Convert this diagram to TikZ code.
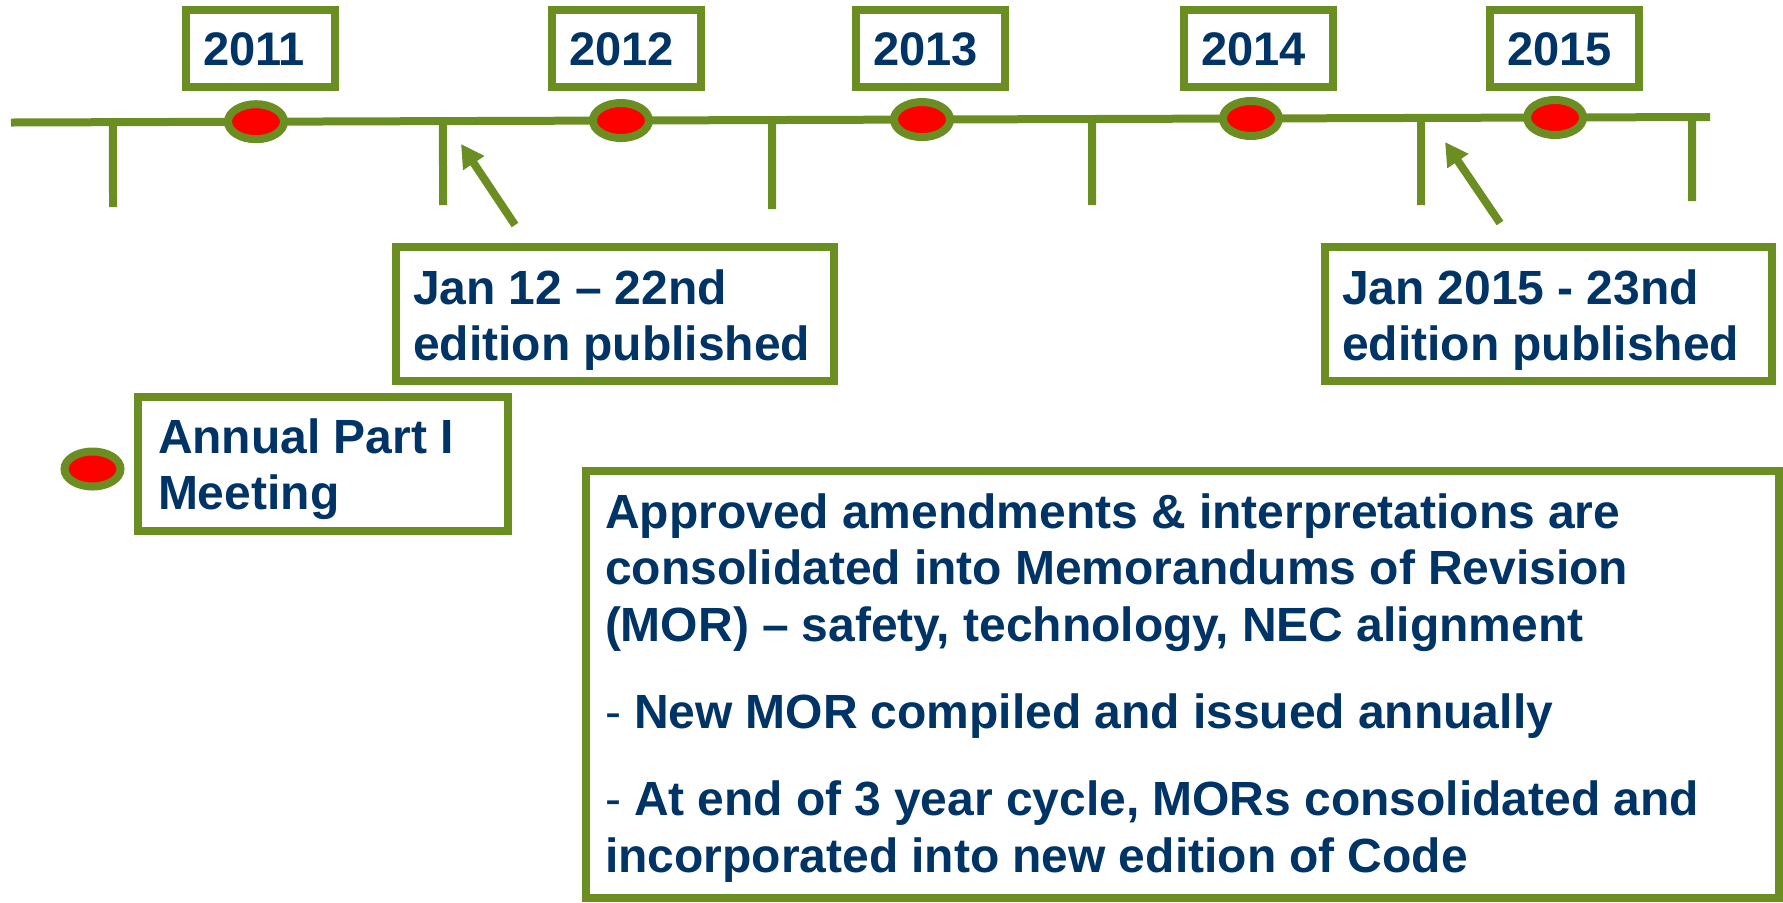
\documentclass[tikz,border=0pt]{standalone}
\usepackage{fontspec}
\setmainfont{Liberation Sans}
\usepackage{tikz}
\usetikzlibrary{
    positioning,      % For placing the legend marker next to its box
    arrows.meta,      % For the triangle arrow tips
    calc,             % For points along the timeline
    shapes.geometric  % For the oval markers
}
\definecolor{lineGreen}{RGB}{107,142,35}
\definecolor{textBlue}{RGB}{0,51,102}
% word spaces as on the slide
\newcommand{\tightwords}{\spaceskip=0.272em\relax}

\begin{document}
\begin{tikzpicture}[
    % Global style settings: one unit = one pixel of the slide, y pointing down
    x=0.1mm, y=-0.1mm,
    % Style for all green strokes
    green_line/.style={
        draw=lineGreen,
        line width=0.8mm
    },
    % Style for the red oval markers
    marker_style/.style={
        ellipse, green_line, fill=red,
        minimum width=5.6mm, minimum height=3.5mm, inner sep=0pt
    },
    % Style for the boxed text labels
    label_style/.style={
        green_line, fill=white, text=textBlue,
        font=\fontsize{13.66pt}{16.2pt}\selectfont\bfseries,
        execute at begin node=\tightwords,
        align=left, inner ysep=0pt, anchor=north west
    },
    % Style for the year boxes
    year_style/.style={
        label_style,
        font=\fontsize{13.4pt}{16pt}\selectfont\bfseries,
        inner xsep=1.7mm, text width=11.5mm,
        text height=5.5mm, text depth=2.2mm
    },
    % Style for arrowheads
    arrow_tip/.style={
        -{Triangle[length=2.3mm, width=2.4mm]}
    }
]
    \useasboundingbox (0,0) rectangle (1783,902);

    % 1. The timeline and its ticks
    \coordinate (tl_start) at (11,122.5);
    \coordinate (tl_end) at (1710,117);
    \draw[green_line] (tl_start) -- (tl_end);
    \foreach \x/\yb in {113/207, 443/205, 772/209, 1092/205, 1421/205, 1692/201}
        \draw[green_line] ($(tl_start)!{(\x-11)/1699}!(tl_end)$) -- (\x,\yb);

    % 2. The markers sitting on the timeline
    \path (tl_start) -- (tl_end)
        node[marker_style, pos=0.1442] (dot_2011) {}
        node[marker_style, pos=0.3590] (dot_2012) {}
        node[marker_style, pos=0.5362] (dot_2013) {}
        node[marker_style, pos=0.7298] (dot_2014) {}
        node[marker_style, pos=0.9088] (dot_2015) {};

    % 3. The year boxes above the markers
    \node[year_style] (year_2011) at (182,6) {2011};
    \node[year_style] (year_2012) at (548,6) {2012};
    \node[year_style] (year_2013) at (852,6) {2013};
    \node[year_style] (year_2014) at (1180,6) {2014};
    \node[year_style] (year_2015) at (1486,6) {2015};

    % 4. The edition boxes and their arrows
    \node[label_style, inner xsep=1.7mm, text width=40.4mm, text height=5.7mm, text depth=7.7mm]
        (edition_22) at (392,243) {Jan 12 – 22nd\\edition published};
    \node[label_style, inner xsep=1.7mm, text width=41.3mm, text height=5.7mm, text depth=7.7mm]
        (edition_23) at (1321,243) {Jan 2015 - 23nd\\edition published};

    \coordinate (tip_22) at (461,144);
    \coordinate (tip_23) at (1445,142);
    \draw[green_line, arrow_tip] ([shift={(123,-18)}]edition_22.north west) -- (tip_22);
    \draw[green_line, arrow_tip] ([shift={(179,-20)}]edition_23.north west) -- (tip_23);

    % 5. The legend for the markers
    \node[label_style, inner xsep=2mm, text width=33mm, text height=5.6mm, text depth=7.8mm]
        (annual_box) at (134,393) {Annual Part I\\Meeting};
    \node[marker_style, left=0.95mm of annual_box.west, yshift=-0.5mm] (dot_legend) {};

    % 6. The revision text box
    \node[label_style, inner xsep=1.9mm, text width=115.5mm, text height=5.7mm, text depth=37mm]
        (mor_box) at (582,467) {Approved amendments \& interpretations are\\
        consolidated into Memorandums of Revision\\
        (MOR) – safety, technology, NEC alignment\\[3mm]
        {\mdseries -} New MOR compiled and issued annually\\[3mm]
        {\mdseries -} At end of 3 year cycle, MORs consolidated and\\
        incorporated into new edition of Code};

\end{tikzpicture}
\end{document}
